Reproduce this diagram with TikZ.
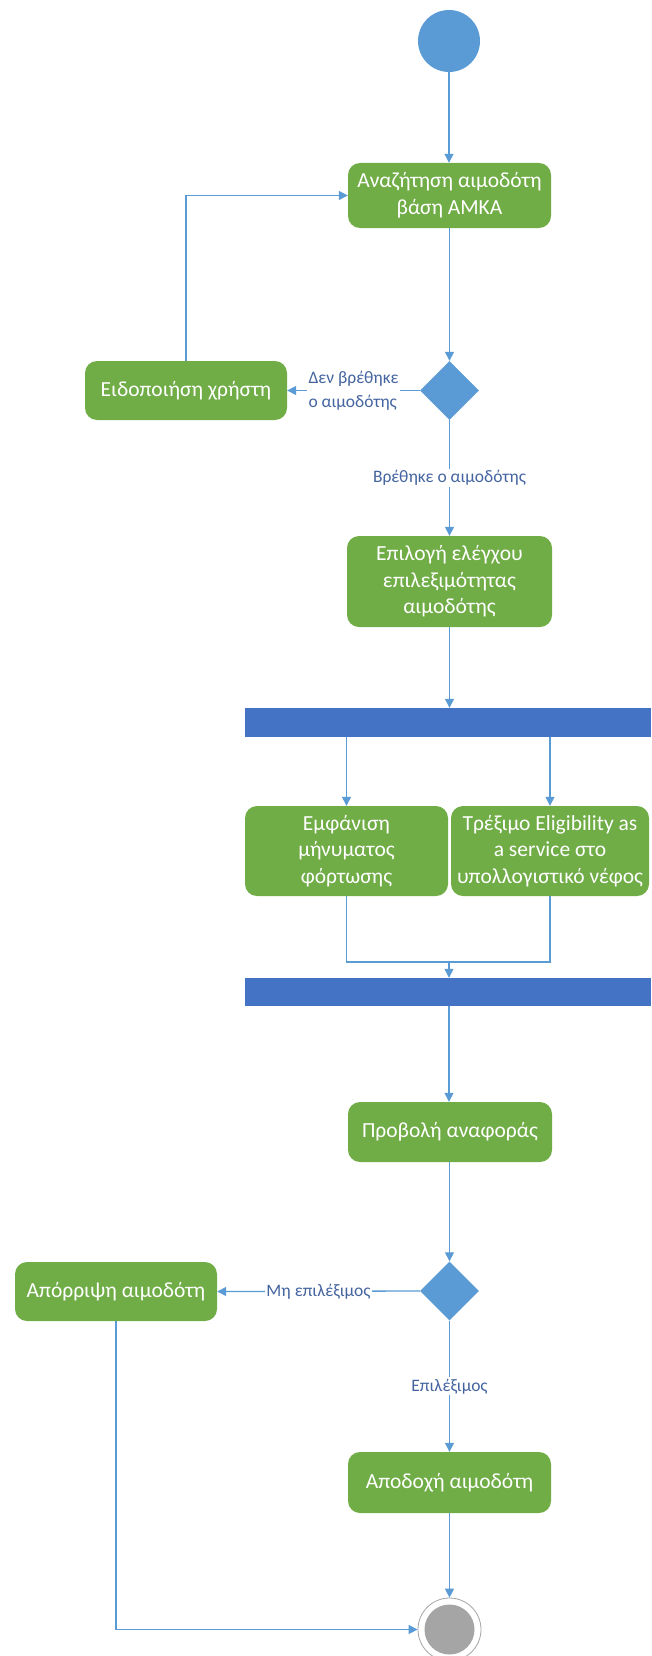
\documentclass[tikz,border=0pt]{standalone}
\usepackage{fontspec}
\setmainfont{Carlito}
\usetikzlibrary{shapes.geometric,arrows.meta}
\definecolor{actgreen}{RGB}{112,173,71}
\definecolor{shapeblue}{RGB}{91,155,213}
\definecolor{barblue}{RGB}{68,114,196}
\definecolor{lineblue}{RGB}{91,155,213}
\definecolor{labelblue}{RGB}{68,100,160}
\definecolor{endgray}{RGB}{165,165,165}
\tikzset{
  act/.style={rectangle, rounded corners=12pt, fill=actgreen, text=white,
    font=\fontsize{21.5}{26.5}\selectfont, align=center, inner sep=0pt},
  bar/.style={rectangle, fill=barblue, inner sep=0pt},
  dec/.style={diamond, fill=shapeblue, inner sep=0pt, minimum width=59pt, minimum height=59pt},
  flow/.style={draw=lineblue, line width=1.3pt, -{Triangle[length=9pt,width=9pt]}},
  plain/.style={draw=lineblue, line width=1.3pt},
  lbl/.style={fill=white, text=labelblue, font=\fontsize{17.5}{24}\selectfont, inner sep=1.5pt}
}
\begin{document}
\begin{tikzpicture}[x=1pt,y=-1pt]
\useasboundingbox (0,0) rectangle (651,1656);
% nodes
\node[circle, fill=shapeblue, minimum size=62pt, inner sep=0pt] (start) at (449,41) {};
\node[act, minimum width=203pt, minimum height=65pt] (search) at (449.5,195.5) {Αναζήτηση αιμοδότη\\βάση ΑΜΚΑ};
\node[dec] (d1) at (449.5,390.5) {};
\node[act, minimum width=202pt, minimum height=59pt] (notify) at (186,390.5) {Ειδοποιήση χρήστη};
\node[act, minimum width=205pt, minimum height=91pt] (select) at (449.5,581.5) {Επιλογή ελέγχου\\επιλεξιμότητας\\αιμοδότης};
\node[bar, minimum width=406pt, minimum height=29pt] (fork) at (448,722.5) {};
\node[act, minimum width=203pt, minimum height=90pt] (load) at (346.5,851) {Εμφάνιση\\μήνυματος\\φόρτωσης};
\node[act, minimum width=198pt, minimum height=90pt] (run) at (550,851) {Τρέξιμο Eligibility as\\a service στο\\υπολλογιστικό νέφος};
\node[bar, minimum width=406pt, minimum height=28pt] (join) at (448,992) {};
\node[act, minimum width=204pt, minimum height=60pt] (report) at (450,1132) {Προβολή αναφοράς};
\node[dec] (d2) at (449.5,1291) {};
\node[act, minimum width=202pt, minimum height=59pt] (reject) at (116,1291.5) {Απόρριψη αιμοδότη};
\node[act, minimum width=203pt, minimum height=61pt] (accept) at (449.5,1482.5) {Αποδοχή αιμοδότη};
\node[circle, draw=endgray, line width=0.8pt, fill=white, minimum size=63pt, inner sep=0pt] (final) at (449.5,1629.5) {};
\node[circle, fill=endgray, minimum size=50pt, inner sep=0pt] at (final.center) {};
\coordinate (jm) at (449,962);
% connectors
\draw[flow] (start) -- (search.north -| start);
\draw[flow] (search.south -| d1) -- (d1.north);
\draw[flow] (d1.west) -- node[lbl, align=left, pos=0.5] {Δεν βρέθηκε\\ο αιμοδότης} (notify.east);
\draw[flow] (notify.north) |- (search.west);
\draw[flow] (d1.south) -- node[lbl, pos=0.5] {Βρέθηκε ο αιμοδότης} (select.north -| d1);
\draw[flow] (select.south -| d1) -- (d1 |- fork.north);
\draw[flow] (fork.south -| load) -- (load.north);
\draw[flow] (fork.south -| run) -- (run.north);
\draw[plain] (load.south) |- (jm) -| (run.south);
\draw[flow] (jm) -- (jm |- join.north);
\draw[flow] (jm |- join.south) -- (report.north -| jm);
\draw[flow] (report.south -| d2) -- (d2.north);
\draw[flow] (d2.west) -- node[lbl, pos=0.5] {Μη επιλέξιμος} (reject.east);
\draw[flow] (d2.south) -- node[lbl, pos=0.5] {Επιλέξιμος} (accept.north -| d2);
\draw[flow] (accept.south -| final) -- (final.north);
\draw[flow] (reject.south) |- (final.west);
\end{tikzpicture}
\end{document}
